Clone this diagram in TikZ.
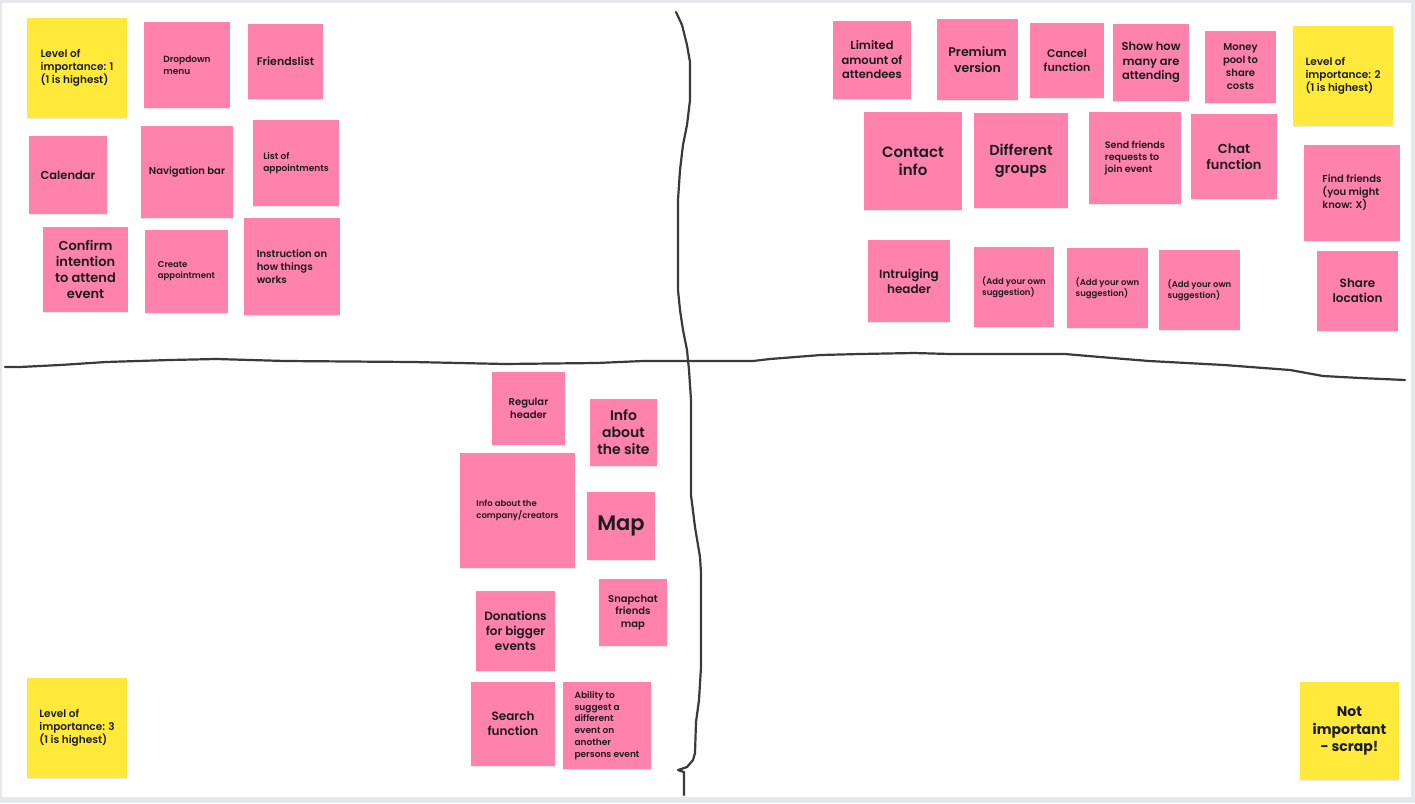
\documentclass[tikz,border=0pt]{standalone}
\usepackage{fontspec}
\setmainfont{Poppins}[UprightFont=* SemiBold, BoldFont=* Bold]
\usepackage{xcolor}
\usepackage{tikz}
\usetikzlibrary{shadows}
\definecolor{notepink}{RGB}{255,130,172}
\definecolor{noteyellow}{RGB}{255,233,59}
\definecolor{notetext}{RGB}{28,28,30}
\definecolor{penline}{RGB}{58,58,58}
\definecolor{frame}{RGB}{230,232,236}
\newcommand{\fsz}[2]{\fontsize{#1pt}{#2pt}\selectfont}
\tikzset{
    note/.style = {rectangle, inner sep=0pt, text=notetext, align=center,
        drop shadow={shadow xshift=0pt, shadow yshift=-1.2pt, opacity=0.18}},
    pinknote/.style = {note, fill=notepink},
    yellownote/.style = {note, fill=noteyellow},
    pen/.style = {line width=2.2pt, draw=penline, line join=round, line cap=round},
}
\begin{document}
\begin{tikzpicture}[x=1pt, y=-1pt]
  % canvas
  \fill[frame] (0,0) rectangle (1415,803);
  \fill[white] (1.5,3) rectangle (1411,797);
  \useasboundingbox (0,0) rectangle (1415,803);

  % dividers
  \draw[pen] (676,12) -- (682,25) -- (687,45) -- (690,62) -- (690,100) -- (687,125)
    -- (683,145) -- (680,170) -- (678,200) -- (678,290) -- (680,310) -- (683,330)
    -- (687,350) -- (689,370) -- (691,400) -- (691,495) -- (695,527) -- (700,557)
    -- (701,573) -- (701,667) -- (699,700) -- (696,722) -- (695,753) -- (693,760)
    -- (687,767) -- (678,770) -- (684,772) -- (684,795);
  \draw[pen] (5,367) -- (20,367) -- (60,365) -- (106,362) -- (170,360) -- (216,359)
    -- (285,361) -- (413,362) -- (505,364) -- (597,363) -- (643,361) -- (753,361)
    -- (770,359) -- (821,355) -- (860,354) -- (914,353) -- (950,354) -- (1008,354)
    -- (1065,354) -- (1100,357) -- (1149,361) -- (1224,365) -- (1290,370)
    -- (1323,376) -- (1360,378) -- (1405,380);

  % level 1
  \node[yellownote, minimum width=100, minimum height=100, align=left, font=\fsz{10.5}{13}] (lvlone) at (77,68) {Level of\\importance: 1\\(1 is highest)};
  \node[pinknote, minimum width=86, minimum height=86, align=left, font=\fsz{9}{12}] (dropdown) at (187,65) {Dropdown\\menu};
  \node[pinknote, minimum width=75, minimum height=75, font=\fsz{11}{14}] (friendslist) at (285.5,61.5) {Friendslist};
  \node[pinknote, minimum width=78, minimum height=78, font=\fsz{11.5}{14}] (calendar) at (68,175) {Calendar};
  \node[pinknote, minimum width=92, minimum height=92, font=\fsz{10}{13}] (navbar) at (187,172) {Navigation bar};
  \node[pinknote, minimum width=86, minimum height=86, align=left, font=\fsz{9}{12}] (appointments) at (296,163) {List of\\appointments};
  \node[pinknote, minimum width=85, minimum height=85, font=\fsz{13}{16}] (confirm) at (85.5,269.5) {Confirm\\intention\\to attend\\event};
  \node[pinknote, minimum width=83, minimum height=83, align=left, font=\fsz{8.5}{11}] (create) at (186.5,271.5) {Create\\appointment};
  \node[pinknote, minimum width=96, minimum height=97, align=left, font=\fsz{10}{13}] (instruction) at (292,266.5) {Instruction on\\how things\\works};

  % level 2
  \node[pinknote, minimum width=78, minimum height=78, font=\fsz{11.5}{14.5}] (attendees) at (872,60) {Limited\\amount of\\attendees};
  \node[pinknote, minimum width=81, minimum height=81, font=\fsz{12.5}{16}] (premium) at (977.5,59.5) {Premium\\version};
  \node[pinknote, minimum width=74, minimum height=75, font=\fsz{11}{14}] (cancel) at (1067,60.5) {Cancel\\function};
  \node[pinknote, minimum width=76, minimum height=77, font=\fsz{11.5}{14.5}] (showhow) at (1151,62.5) {Show how\\many are\\attending};
  \node[pinknote, minimum width=71, minimum height=72, font=\fsz{10}{13}] (moneypool) at (1240.5,67) {Money\\pool to\\share\\costs};
  \node[yellownote, minimum width=100, minimum height=100, align=left, font=\fsz{10.5}{13}] (lvltwo) at (1343,76) {Level of\\importance: 2\\(1 is highest)};
  \node[pinknote, minimum width=98, minimum height=98, font=\fsz{15}{18}] (contact) at (913,161) {Contact\\info};
  \node[pinknote, minimum width=94, minimum height=95, font=\fsz{14.5}{18}] (groups) at (1021,160.5) {Different\\groups};
  \node[pinknote, minimum width=92, minimum height=92, align=left, font=\fsz{9.5}{12}] (sendreq) at (1135,158) {Send friends\\requests to\\join event};
  \node[pinknote, minimum width=86, minimum height=85, font=\fsz{13}{16}] (chat) at (1234,156.5) {Chat\\function};
  \node[pinknote, minimum width=96, minimum height=96, align=left, font=\fsz{10}{13}] (findfriends) at (1352,193) {Find friends\\(you might\\know: X)};
  \node[pinknote, minimum width=82, minimum height=82, font=\fsz{12}{15}] (intheader) at (909,281) {Intruiging\\header};
  \node[pinknote, minimum width=80, minimum height=80, align=left, font=\fsz{8.5}{11}] (ownone) at (1014,287) {(Add your own\\suggestion)};
  \node[pinknote, minimum width=81, minimum height=80, align=left, font=\fsz{8.5}{11}] (owntwo) at (1107.5,288) {(Add your own\\suggestion)};
  \node[pinknote, minimum width=81, minimum height=80, align=left, font=\fsz{8.5}{11}] (ownthree) at (1199.5,290) {(Add your own\\suggestion)};
  \node[pinknote, minimum width=81, minimum height=80, font=\fsz{12}{15}] (location) at (1357.5,291) {Share\\location};

  % level 3
  \node[pinknote, minimum width=73, minimum height=73, font=\fsz{10}{13}] (regheader) at (528.5,408.5) {Regular\\header};
  \node[pinknote, minimum width=67, minimum height=67, font=\fsz{14}{17}] (siteinfo) at (623.5,432.5) {Info\\about\\the site};
  \node[pinknote, minimum width=115, minimum height=115, align=left, font=\fsz{8.5}{12}] (company) at (517.5,510.5) {Info about the\\company/creators};
  \node[pinknote, minimum width=68, minimum height=68, font=\fsz{21}{24}] (map) at (621,526) {Map};
  \node[pinknote, minimum width=68, minimum height=67, font=\fsz{10}{12.5}] (snapchat) at (633,612.5) {Snapchat\\friends\\map};
  \node[pinknote, minimum width=79, minimum height=80, font=\fsz{12}{15}] (donations) at (515.5,631) {Donations\\for bigger\\events};
  \node[pinknote, minimum width=84, minimum height=84, font=\fsz{12}{15}] (search) at (513,724) {Search\\function};
  \node[pinknote, minimum width=88, minimum height=87, align=left, font=\fsz{9}{11.8}] (suggest) at (607,725.5) {Ability to\\suggest a\\different\\event on\\another\\persons event};
  \node[yellownote, minimum width=100, minimum height=100, align=left, font=\fsz{10.5}{13}] (lvlthree) at (77,728) {Level of\\importance: 3\\(1 is highest)};

  % scrap
  \node[yellownote, minimum width=99, minimum height=98, font=\bfseries\fsz{14}{17.5}] (scrap) at (1349.5,731) {Not\\important\\- scrap!};
\end{tikzpicture}
\end{document}
